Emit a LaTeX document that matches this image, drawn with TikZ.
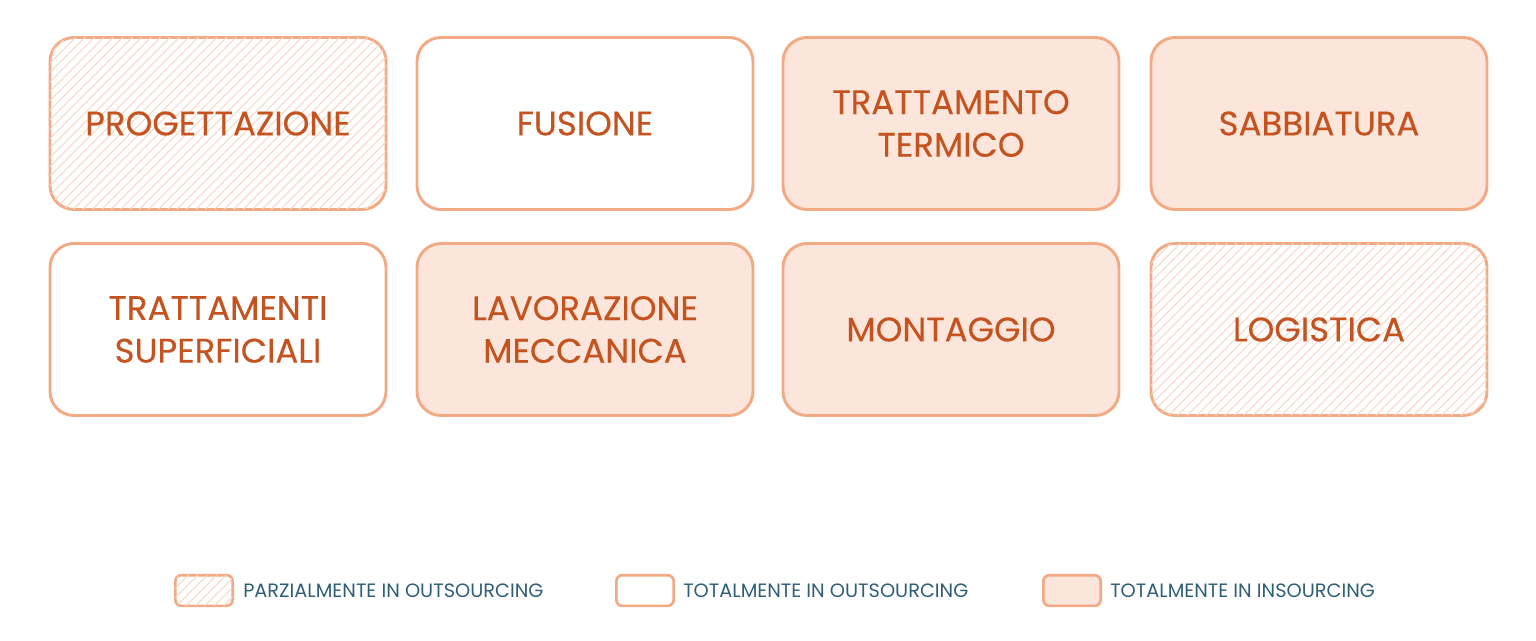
\documentclass[tikz,border=0pt]{standalone}
\usepackage{fontspec}
\setmainfont{Poppins}
\newfontfamily\fasefont{Poppins}[FakeBold=0.3]
\usepackage{tikz}
\usetikzlibrary{patterns.meta}
\definecolor{bordo}{HTML}{F2AA85}
\definecolor{pieno}{HTML}{FCE5DA}
\definecolor{tratto}{HTML}{F8D8C8}
\definecolor{scritta}{HTML}{C4531F}
\definecolor{legenda}{HTML}{2F5F78}

\begin{document}
\begin{tikzpicture}[x=0.75pt,y=0.75pt,yscale=-1,xscale=1,
  fase/.style={draw=bordo,line width=2.2pt,rounded corners=18pt,minimum width=252pt,minimum height=129pt,align=center,text=scritta,font=\fasefont\fontsize{25.5}{32}\selectfont},
  parziale/.style={fase,fill=white,postaction={pattern={Lines[angle=45,distance=5pt,line width=0.8pt]},pattern color=tratto}},
  esterno/.style={fase,fill=white},
  interno/.style={fase,fill=pieno},
  chiave/.style={draw=bordo,line width=2pt,rounded corners=4.5pt,minimum width=43pt,minimum height=23pt},
  voce/.style={anchor=west,inner sep=0pt,text=legenda,font=\fontsize{14.5}{16}\selectfont}]
\useasboundingbox (0,0) rectangle (1536,641);

% Row 1
\node [parziale] (prog) at (218,123.5) {PROGETTAZIONE};
\node [esterno] (fus) at (585,123.5) {FUSIONE};
\node [interno] (term) at (951,123.5) {TRATTAMENTO\\TERMICO};
\node [interno] (sabb) at (1319,123.5) {SABBIATURA};

% Row 2
\node [esterno] (superf) at (218,329.5) {TRATTAMENTI\\SUPERFICIALI};
\node [interno] (lav) at (585,329.5) {LAVORAZIONE\\MECCANICA};
\node [interno] (mont) at (951,329.5) {MONTAGGIO};
\node [parziale] (log) at (1319,329.5) {LOGISTICA};

% Legend
\node [chiave,fill=white,postaction={pattern={Lines[angle=45,distance=5pt,line width=0.8pt]},pattern color=tratto}] (kpar) at (204,590.5) {};
\node [voce] (vpar) at (243,590.5) {PARZIALMENTE IN OUTSOURCING};
\node [chiave,fill=white] (kest) at (645,590.5) {};
\node [voce] (vest) at (683,590.5) {TOTALMENTE IN OUTSOURCING};
\node [chiave,fill=pieno] (kint) at (1072,590.5) {};
\node [voce] (vint) at (1110,590.5) {TOTALMENTE IN INSOURCING};

\end{tikzpicture}
\end{document}
